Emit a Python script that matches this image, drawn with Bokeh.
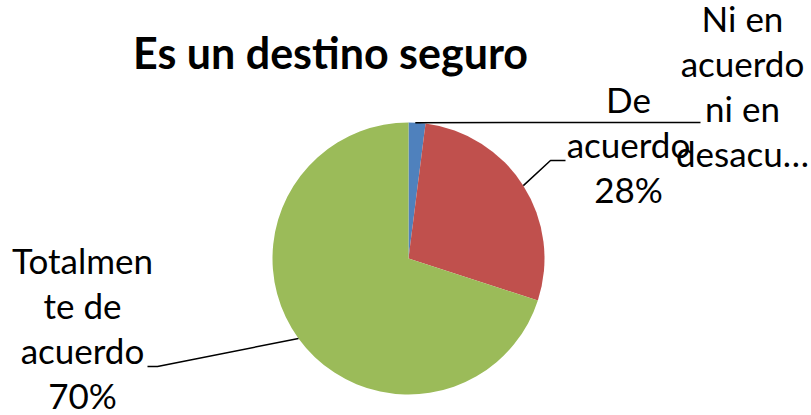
import numpy as np
from bokeh.plotting import figure
from bokeh.models import Range1d, ColumnDataSource
from bokeh.core.properties import value
from bokeh.embed import file_html
from bokeh.resources import INLINE

# ---- data ----
categories = ["Ni en acuerdo ni en desacuerdo", "De acuerdo", "Totalmente de acuerdo"]
label_lines = ["Ni en\nacuerdo\nni en\ndesacu\u2026", "De\nacuerdo", "Totalmen\nte de\nacuerdo"]
values = [2, 28, 70]
colors = ["#4F81BD", "#C0504D", "#9BBB59"]
title_text = "Es un destino seguro"

W, H = 811, 415
# data units = page pixels; y measured upward from bottom of the window
def Y(img_y):
    return H - img_y

p = figure(width=W, height=H, output_backend="svg", toolbar_location=None,
           x_range=Range1d(0, W), y_range=Range1d(0, H),
           min_border=0, outline_line_color=None)
p.axis.visible = False
p.grid.visible = False
p.background_fill_color = "white"
p.border_fill_color = "white"

cx, cy, r = 408, Y(258), 136
vals = np.array(values, dtype=float)
frac = vals / vals.sum()
cum = np.concatenate([[0], np.cumsum(frac)])
start = np.pi / 2 - 2 * np.pi * cum[:-1]
end = np.pi / 2 - 2 * np.pi * cum[1:]
mid = (start + end) / 2

src = ColumnDataSource(dict(x=[cx] * 3, y=[cy] * 3, s=start, e=end, c=colors))
p.wedge(x="x", y="y", radius=r, start_angle="s", end_angle="e", direction="clock",
        fill_color="c", line_color=None, source=src)

# leader lines (elbow positions are layout)
edge = [(cx + r * np.cos(a), cy + r * np.sin(a)) for a in mid]
elbows = [
    [(700, Y(122))],
    [(550, Y(160)), (565, Y(160))],
    [(157, Y(366)), (147, Y(366))],
]
blue_top = (cx + r * np.cos(start[0] - 0.05), cy + r * np.sin(start[0] - 0.05))
starts = [blue_top, edge[1], edge[2]]
for st, el in zip(starts, elbows):
    xs = [st[0]] + [q[0] for q in el]
    ys = [st[1]] + [q[1] for q in el]
    p.line(xs, ys, line_color="black", line_width=1.5)

font = value("Lato")
fs = 35
lh = 45
texts = [label_lines[0],
         label_lines[1] + "\n" + f"{values[1]}%",
         label_lines[2] + "\n" + f"{values[2]}%"]
# first-line centres
pos = [(742, 22), (628, 103), (82, 264)]
for t, (x, y) in zip(texts, pos):
    p.text(x=[x], y=[Y(y - 26)], text=[t], text_font=font, text_font_size=f"{fs}px",
           text_align="center", text_baseline="top", text_line_height=lh / (1.2 * fs),
           text_color="black")

p.text(x=[330], y=[Y(52)], text=[title_text], text_font=font, text_font_size="43px",
       text_font_style="bold", text_align="center", text_baseline="middle", text_color="black")

open("out.html", "w").write(file_html(p, INLINE))
